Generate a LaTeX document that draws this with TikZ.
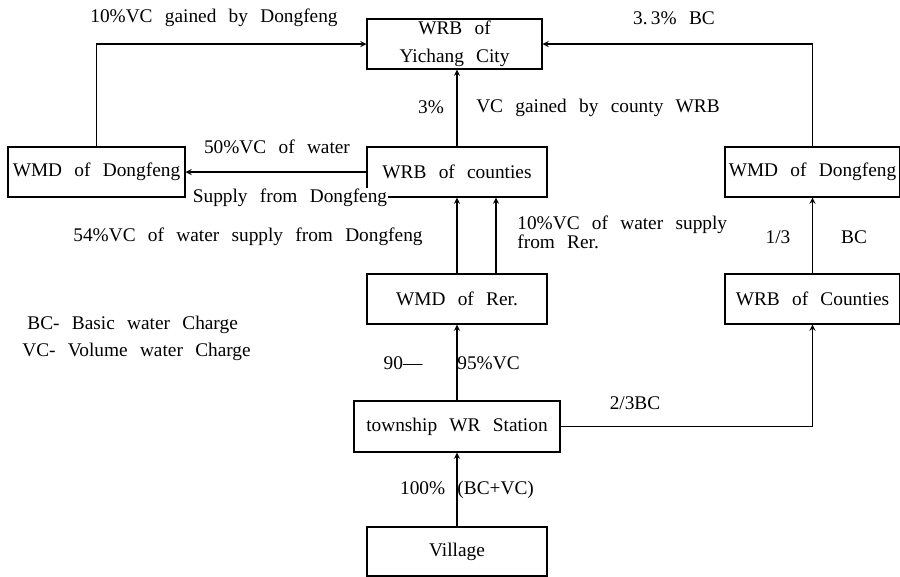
\documentclass[tikz,border=0pt]{standalone}
\usepackage{fontspec}
\setmainfont{Liberation Serif}
\usetikzlibrary{arrows,calc}
\newcommand\chartfont{\fontsize{11}{13}\selectfont\spaceskip=7pt plus 1pt\relax}

\begin{document}
\begin{tikzpicture}[x=0.02cm,y=-0.02cm,>=stealth,line width=0.6pt,font=\chartfont,
  box/.style={draw,inner sep=0pt,minimum width=3.6cm,minimum height=1cm},
  flow/.style={->}]
\useasboundingbox (0,0) rectangle (900,576);

% boxes
\node[box,align=center,minimum width=3.5cm] (city) at (454.5,44) {WRB of\\[3pt]Yichang City};
\node[box,minimum width=3.54cm] (wmdl) at (96.5,172) {WMD of Dongfeng};
\node[box] (wrbc) at (457,172) {WRB of counties};
\node[box,minimum width=3.5cm] (wmdr) at (812.5,172) {WMD of Dongfeng};
\node[box] (rer) at (457,299) {WMD of Rer.};
\node[box,minimum width=3.5cm] (wrbr) at (812.5,299) {WRB of Counties};
\node[box,minimum width=4.12cm,minimum height=1.02cm] (town) at (457,426.5) {township WR Station};
\node[box,minimum height=0.98cm] (village) at (457,551.5) {Village};

% money flows
\draw[flow] (wmdl.north) |- (city.west);
\draw[flow] (wmdr.north) |- (city.east);
\draw[flow] (wrbc.north) -- (wrbc.north |- city.south);
\draw[flow] (wrbc.west) -- (wmdl.east);
\draw[flow] (rer.north) -- (wrbc.south);
\coordinate (rer2) at ($(rer.north)+(39,0)$);
\draw[flow] (rer2) -- (rer2 |- wrbc.south);
\draw[flow] (wrbr.north) -- (wmdr.south);
\draw[flow] (town.north) -- (rer.south);
\draw[flow] (town.east) -| (wrbr.south);
\draw[flow] (village.north) -- (town.south);

% labels
\node (gainDf) at (214,18) {10\%VC gained by Dongfeng};
\node (gainBc) at (674,18) {3.\,3\% BC};
\node (pctCity) at (431,107) {3\%};
\node (gainWrb) at (598,108) {VC gained by county WRB};
\node (vcWater) at (277,147) {50\%VC of water};
\node[fill=white,inner sep=0.5pt] (supplyDf) at (290,198) {Supply from Dongfeng};
\node (vcDf) at (248,237) {54\%VC of water supply from Dongfeng};
\node[anchor=west,align=left] (vcRer) at (511,232) {10\%VC of water supply\\[-2pt]from Rer.};
\node (third) at (778,237) {1/3};
\node (bcTop) at (854,237) {BC};
\node (ninety) at (403,363) {90---};
\node[anchor=west] (ninetyfive) at (451,363) {95\%VC};
\node (twothirds) at (635,403) {2/3BC};
\node (full) at (467,490) {100\% (BC+VC)};
\node[anchor=west] (legBc) at (21,325) {BC- Basic water Charge};
\node[anchor=west] (legVc) at (16,352) {VC- Volume water Charge};
\end{tikzpicture}
\end{document}
